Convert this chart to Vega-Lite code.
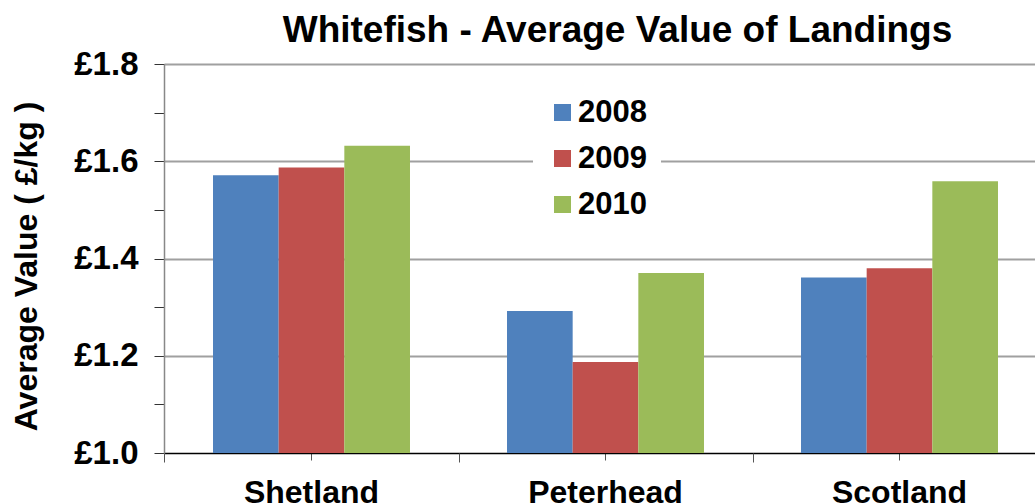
{
  "$schema": "https://vega.github.io/schema/vega-lite/v6.json",
  "autosize": "none",
  "width": 871,
  "height": 389,
  "padding": {"left": 164, "top": 64, "right": 0, "bottom": 51},
  "background": "white",
  "config": {
    "font": "Liberation Sans",
    "view": {"stroke": null}
  },
  "title": {
    "text": "Whitefish - Average Value of Landings",
    "fontSize": 37,
    "fontWeight": "bold",
    "font": "Liberation Sans",
    "color": "black",
    "anchor": "middle",
    "frame": "group",
    "dx": 18,
    "offset": -2
  },
  "data": {
    "values": [
      {"region": "Shetland", "year": "2008", "value": 1.571},
      {"region": "Shetland", "year": "2009", "value": 1.587},
      {"region": "Shetland", "year": "2010", "value": 1.632},
      {"region": "Peterhead", "year": "2008", "value": 1.292},
      {"region": "Peterhead", "year": "2009", "value": 1.187},
      {"region": "Peterhead", "year": "2010", "value": 1.370},
      {"region": "Scotland", "year": "2008", "value": 1.361},
      {"region": "Scotland", "year": "2009", "value": 1.380},
      {"region": "Scotland", "year": "2010", "value": 1.559}
    ]
  },
  "resolve": {"axis": {"x": "independent"}},
  "layer": [
    {
      "mark": {"type": "bar", "clip": true},
      "encoding": {
        "x": {
          "field": "region",
          "type": "nominal",
          "sort": ["Shetland", "Peterhead", "Scotland"],
          "scale": {"range": [0, 883], "paddingInner": 0.33, "paddingOuter": 0.1667},
          "axis": {
            "orient": "bottom",
            "title": null,
            "labelAngle": 0,
            "labelFontSize": 32,
            "labelFontWeight": "bold",
            "labelColor": "black",
            "labelPadding": 17,
            "tickSize": 7,
            "tickColor": "#555555",
            "domainColor": "black",
            "domainWidth": 1.5,
            "grid": false
          }
        },
        "xOffset": {"field": "year", "type": "nominal", "sort": ["2008", "2009", "2010"]},
        "y": {
          "field": "value",
          "type": "quantitative",
          "scale": {"domain": [1.0, 1.8], "nice": false, "zero": false},
          "axis": {
            "title": "Average Value ( £/kg )",
            "titleFontSize": 32,
            "titleFontWeight": "bold",
            "titleColor": "black",
            "titlePadding": 30,
            "titleY": 202,
            "values": [1.0, 1.1, 1.2, 1.3, 1.4, 1.5, 1.6, 1.7, 1.8],
            "labelExpr": "round(datum.value*10) % 2 == 0 ? '£' + format(datum.value, '.1f') : ''",
            "labelFontSize": 33,
            "labelFontWeight": "bold",
            "labelColor": "black",
            "labelPadding": 16,
            "tickSize": 10,
            "tickColor": "#333333",
            "domainColor": "#888888",
            "domainWidth": 1.5,
            "grid": true,
            "gridColor": "#A0A0A0",
            "gridWidth": 2,
            "gridOpacity": {"condition": {"test": "round(datum.value*10) % 2 == 0 && datum.value > 1.05", "value": 1}, "value": 0}
          }
        },
        "color": {
          "field": "year",
          "type": "nominal",
          "sort": ["2008", "2009", "2010"],
          "scale": {"domain": ["2008", "2009", "2010"], "range": ["#4F81BD", "#C0504D", "#9BBB59"]},
          "legend": {
            "title": null,
            "orient": "none",
            "legendX": 369,
            "legendY": 19,
            "padding": 14,
            "fillColor": "white",
            "symbolType": "square",
            "symbolSize": 289,
            "symbolStrokeWidth": 0,
            "symbolOpacity": 1,
            "labelFontSize": 31,
            "labelFontWeight": "bold",
            "labelColor": "black",
            "labelOffset": 0,
            "rowPadding": 14
          }
        }
      }
    },
    {
      "mark": {"type": "bar", "opacity": 0},
      "encoding": {
        "x": {
          "field": "region",
          "type": "nominal",
          "sort": ["Shetland", "Peterhead", "Scotland"],
          "axis": {
            "orient": "bottom",
            "title": null,
            "labels": false,
            "domain": false,
            "tickOffset": -147,
            "tickSize": 9,
            "tickColor": "#555555",
            "grid": false
          }
        },
        "xOffset": {"field": "year", "type": "nominal", "sort": ["2008", "2009", "2010"]},
        "y": {"field": "value", "type": "quantitative"}
      }
    }
  ]
}
